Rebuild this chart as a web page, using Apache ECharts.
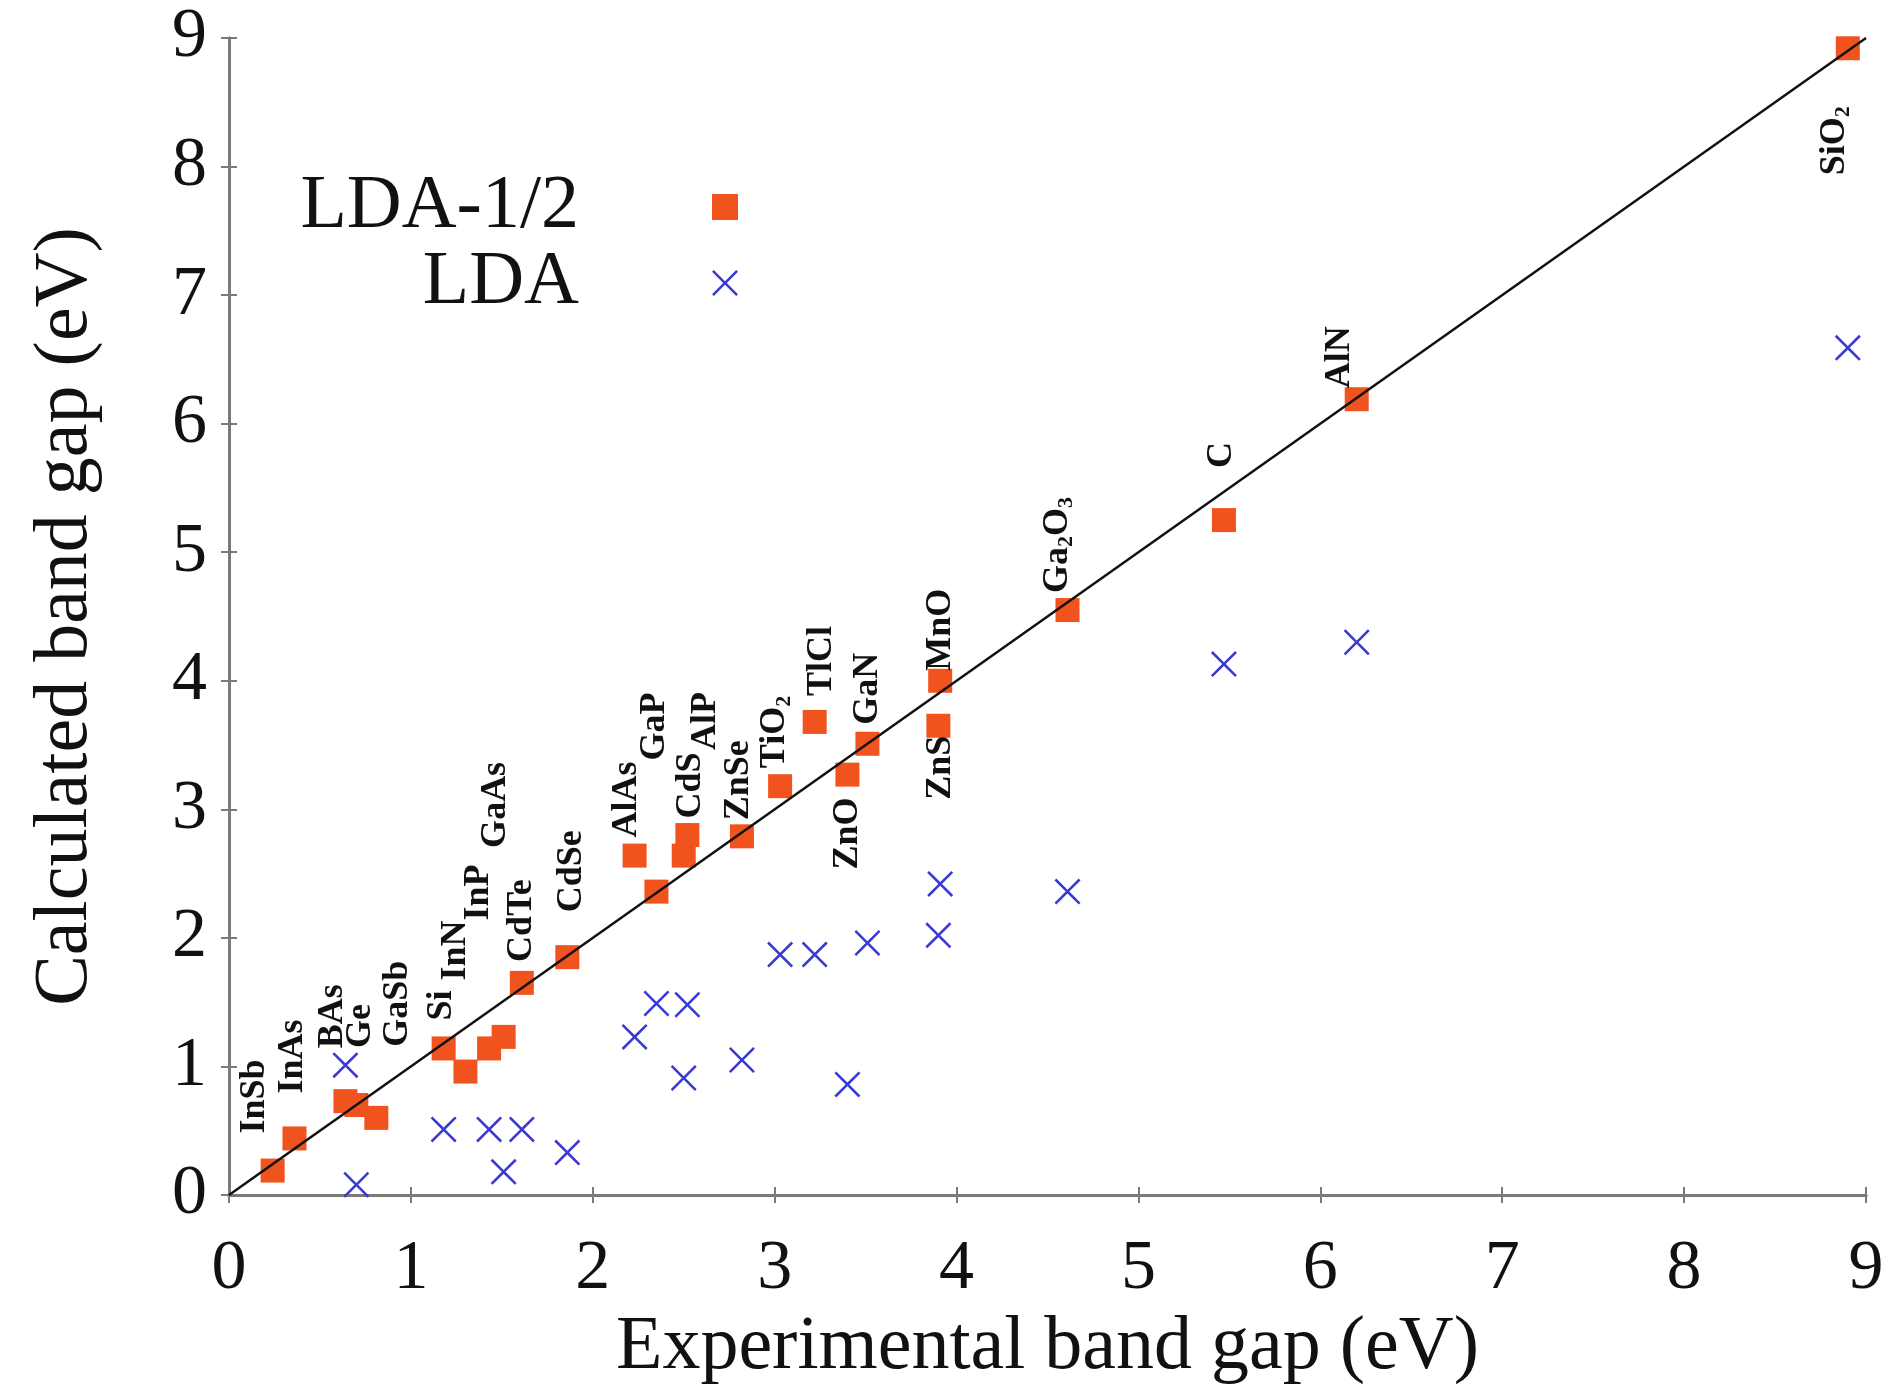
<!DOCTYPE html>
<html>
<head>
<meta charset="utf-8">
<script src="https://cdn.jsdelivr.net/npm/echarts@6/dist/echarts.min.js"></script>
<style>
  html, body { margin: 0; padding: 0; background: #ffffff; }
  #main { width: 1899px; height: 1393px; }
</style>
</head>
<body>
<div id="main"></div>
<script>
// 材料名称 (数字写成下标)
const materials = ['InSb', 'InAs', 'BAs', 'Ge', 'GaSb', 'Si', 'InN', 'InP', 'GaAs', 'CdTe', 'CdSe',
  'AlAs', 'GaP', 'CdS', 'AlP', 'ZnSe', 'TiO2', 'TlCl', 'ZnO', 'GaN', 'ZnS', 'MnO', 'Ga2O3', 'C', 'AlN', 'SiO2'];

// 实验带隙 (x)
const exptGap = [0.24, 0.36, 0.64, 0.70, 0.81, 1.18, 1.30, 1.43, 1.51, 1.61, 1.86,
  2.23, 2.35, 2.50, 2.52, 2.82, 3.03, 3.22, 3.40, 3.51, 3.90, 3.91, 4.61, 5.47, 6.20, 8.90];

// LDA-1/2 计算带隙
const ldaHalfGap = [0.19, 0.44, 0.73, 0.70, 0.60, 1.14, 0.96, 1.14, 1.23, 1.65, 1.85,
  2.64, 2.36, 2.64, 2.80, 2.79, 3.18, 3.68, 3.27, 3.51, 3.65, 4.00, 4.55, 5.25, 6.19, 8.92];

// LDA 计算带隙 (null = 图中没有)
const ldaGap = [null, null, 1.01, 0.08, null, 0.51, null, 0.51, 0.18, 0.51, 0.33,
  1.23, 1.49, 0.91, 1.48, 1.05, 1.87, 1.87, 0.86, 1.96, 2.02, 2.42, 2.36, 4.13, 4.30, 6.59];

// 对角线 y = x
const diagonal = [[0, 0], [9, 9]];

// 标签相对点的屏幕偏移 [dx, dy] (px)
const labelShift = [[-18, -37], [-2, -45], [-13, -53], [4, -57], [21, -71], [-2, -28], [-10, -91],
  [-10, -128], [-8, -189], [0, -21], [4, -45], [-8, -18], [-2, -131], [7, -37], [18, -85],
  [-3, -16], [-5, -18], [7, -26], [0, 95], [0, -19], [2, 74], [1, -10], [-10, -17],
  [-2, -52], [-17, -11], [-13, 127]];

const FONT = 'Liberation Serif';
const crossPath = 'path://M7,0 L50,43 L93,0 L100,7 L57,50 L100,93 L93,100 L50,57 L7,100 L0,93 L43,50 L0,7 Z';

//构建数据
let squareData = [];
let crossData = [];
for (let i = 0; i < materials.length; i++) {
    let s = labelShift[i];
    squareData.push({
        value: [exptGap[i], ldaHalfGap[i]],
        name: materials[i],
        // 标签旋转90度, offset 在旋转后的坐标系里
        label: { offset: [-s[1], s[0]] }
    });
    if (ldaGap[i] !== null) {
        crossData.push([exptGap[i], ldaGap[i]]);
    }
}

let chart = echarts.init(document.getElementById('main'), null, {renderer: 'canvas'});

let axisCommon = {
    type: 'value',
    min: 0,
    max: 9,
    interval: 1,
    splitLine: {show: false},
    axisLine: {show: true, lineStyle: {color: '#7a7a7a', width: 3}},
    axisTick: {show: true, inside: true, length: 8, lineStyle: {color: '#7a7a7a', width: 2}}
};

let option = {
    backgroundColor: '#ffffff',
    animation: false,
    grid: {left: 229, right: 33, top: 38, bottom: 198, show: false},
    legend: {
        data: ['LDA-1/2', 'LDA'],
        orient: 'vertical',
        left: 299,
        top: 169,
        padding: 0,
        align: 'right',
        itemWidth: 26,
        itemHeight: 26,
        itemGap: 0,
        formatter: '{t|{name}}',
        textStyle: {
            rich: {
                t: {
                    width: 280, align: 'right', fontSize: 76, lineHeight: 76,
                    fontFamily: FONT, color: '#111', padding: [0, 128, 0, 0]
                }
            }
        }
    },
    xAxis: [
        Object.assign({}, axisCommon, {
            position: 'bottom',
            name: 'Experimental band gap (eV)',
            nameLocation: 'middle',
            nameGap: 92,
            nameTextStyle: {fontFamily: FONT, fontSize: 76, color: '#111'},
            axisLabel: {fontFamily: FONT, fontSize: 70, color: '#111', margin: 40}
        }),
        Object.assign({}, axisCommon, {position: 'top', axisLabel: {show: false}})
    ],
    yAxis: [
        Object.assign({}, axisCommon, {
            position: 'left',
            name: 'Calculated band gap (eV)',
            nameLocation: 'middle',
            nameGap: 125,
            nameTextStyle: {fontFamily: FONT, fontSize: 76, color: '#111'},
            axisLabel: {fontFamily: FONT, fontSize: 70, color: '#111', margin: 22}
        }),
        Object.assign({}, axisCommon, {position: 'right', axisLabel: {show: false}})
    ],
    series: [{
        name: 'y=x',
        type: 'line',
        data: diagonal,
        symbol: 'none',
        z: 5,
        lineStyle: {color: '#111', width: 2.5},
        silent: true
    }, {
        name: 'LDA-1/2',
        type: 'scatter',
        symbol: 'rect',
        symbolSize: 24,
        z: 3,
        itemStyle: {color: '#f0531d', opacity: 1},
        label: {
            show: true,
            position: 'inside',
            rotate: 90,
            align: 'left',
            verticalAlign: 'middle',
            fontFamily: FONT,
            fontWeight: 'bold',
            fontSize: 36,
            lineHeight: 40,
            color: '#111',
            formatter: function (p) {
                return p.name.replace(/(\d)/g, '{s|$1}');
            },
            rich: {
                s: {fontFamily: FONT, fontSize: 22, lineHeight: 22, verticalAlign: 'bottom', color: '#111'}
            }
        },
        data: squareData
    }, {
        name: 'LDA',
        type: 'scatter',
        symbol: crossPath,
        symbolSize: 26,
        z: 3,
        itemStyle: {color: '#3a3ad2', opacity: 1},
        data: crossData
    }]
};

chart.setOption(option);
</script>
</body>
</html>
